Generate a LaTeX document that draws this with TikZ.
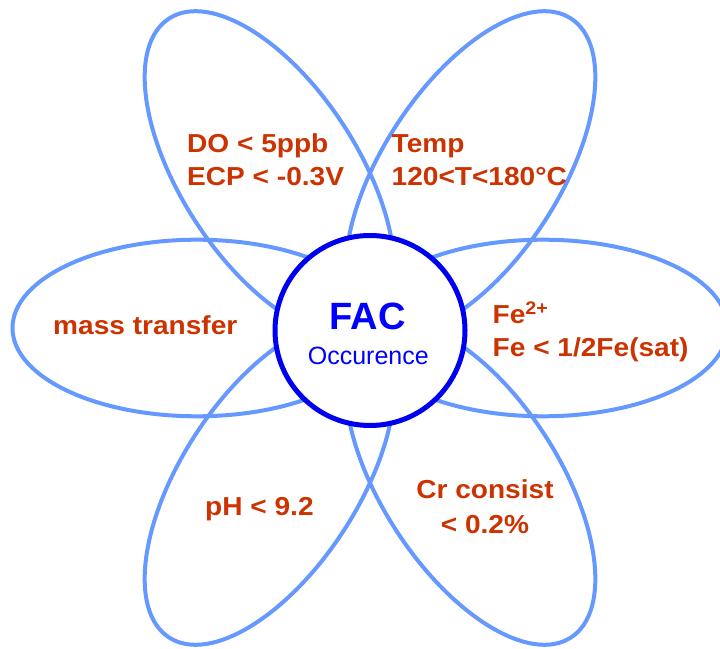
\documentclass[tikz,border=0pt]{standalone}
\usepackage{fontspec}
\setmainfont{Liberation Sans}
\newfontfamily\lblfont[FakeStretch=1.08]{Liberation Sans}
\usetikzlibrary{positioning}
\definecolor{fpetal}{HTML}{6699FF}
\definecolor{fcore}{HTML}{0000F0}
\definecolor{flbl}{HTML}{CC3300}
\tikzset{
  fpet/.style={draw=fpetal, line width=4pt},
  fcirc/.style={circle, draw=fcore, fill=white, line width=5pt,
                minimum size=190pt, inner sep=0pt},
  ftxt/.style={flbl, font=\lblfont\bfseries\fontsize{26}{33}\selectfont,
               inner sep=0pt},
  fbig/.style={blue, font=\bfseries\fontsize{38}{42}\selectfont, inner sep=0pt},
  fsmall/.style={blue, font=\fontsize{25}{28}\selectfont, inner sep=0pt},
}

\begin{document}
\begin{tikzpicture}[x=1pt,y=1pt]
  \clip (0,0) rectangle (720,648);

  % --- petals ---
  \begin{scope}[shift={(370,320)}]
    \foreach \ang/\dist in {0/173, 180/173, 57/184.5, 123/184.5, -57/184.5, -123/184.5}
      \draw[fpet, rotate=\ang] (\dist,0) ellipse [x radius=184.5pt, y radius=88.3pt];
  \end{scope}

  % --- core ---
  \node[fcirc] (fac) at (370,317.5) {};
  \node[fbig, anchor=base] (factitle) at (367.5,318) {FAC};
  \node[fsmall, anchor=base] (facsub) at (368.3,283) {Occurence};

  % --- conditions ---
  \node[ftxt, anchor=base west, align=left] (dolbl) at (187,462) {DO < 5ppb\\ECP < -0.3V};
  \node[ftxt, anchor=base west, align=left] (templbl) at (391.5,462) {Temp\\120<T<180°C};
  \node[ftxt, anchor=base west, align=left] (felbl) at (492.5,291.3) {Fe\textsuperscript{2+}\\Fe < 1/2Fe(sat)};
  \node[ftxt, anchor=base west] (masslbl) at (53,313) {mass transfer};
  \node[ftxt, anchor=base west] (phlbl) at (205,132.5) {pH < 9.2};
  \node[ftxt, anchor=base, align=center] (crlbl) at (485,114.7) {Cr consist\\[2pt]< 0.2\%};

\end{tikzpicture}
\end{document}
